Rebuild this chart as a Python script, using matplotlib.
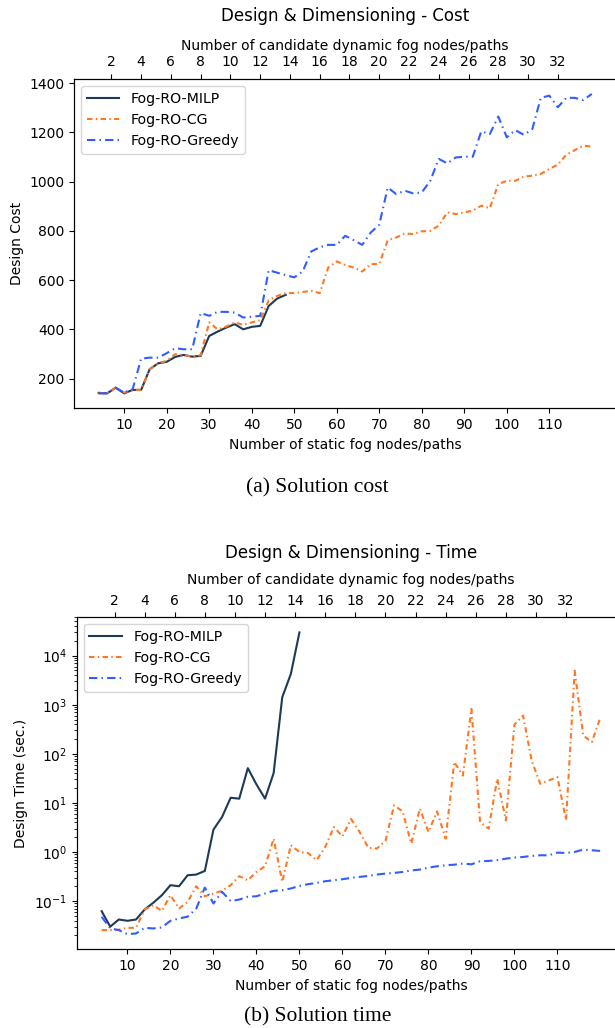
import numpy as np
import matplotlib
matplotlib.use("Agg")
import matplotlib.pyplot as plt

# static fog nodes/paths (bottom axis); dynamic = static / 3.5 (top axis)
n_static = list(range(4, 121, 2))
n_static_milp = list(range(4, 49, 2))
n_static_milp_t = list(range(4, 51, 2))
top_ticks = list(range(2, 33, 2))
bottom_ticks = list(range(10, 111, 10))

cost_milp = [142, 140, 163, 140, 154, 154, 238, 262, 268, 288, 296, 289,
             292, 373, 391, 407, 421, 400, 410, 414, 495, 525, 540]
cost_cg = [140, 140, 163, 143, 154, 154, 238, 262, 272, 299, 296, 289,
           295, 428, 400, 411, 428, 418, 428, 437, 518, 536, 547, 547,
           552, 556, 547, 651, 676, 661, 651, 635, 665, 665, 762, 773,
           789, 787, 798, 800, 821, 875, 868, 875, 882, 902, 892, 990,
           1003, 1003, 1020, 1024, 1031, 1051, 1069, 1109, 1128, 1146, 1142]
cost_greedy = [140, 140, 163, 143, 157, 281, 285, 285, 303, 323, 319, 319,
               466, 455, 471, 471, 468, 448, 451, 455, 640, 630, 620, 611,
               635, 716, 733, 743, 743, 780, 762, 743, 793, 825, 976, 949,
               963, 952, 956, 1003, 1092, 1074, 1098, 1101, 1101, 1204, 1193, 1264,
               1180, 1209, 1190, 1213, 1340, 1349, 1302, 1340, 1340, 1331, 1356]

time_milp = [0.062, 0.030, 0.042, 0.0395, 0.042, 0.067, 0.092, 0.131, 0.21, 0.20,
             0.335, 0.346, 0.41, 2.85, 5.15, 12.7, 12.2, 51, 23.8, 12.2,
             40.5, 1420, 4240, 29800]
time_cg = [0.0255, 0.0255, 0.026, 0.0284, 0.0284, 0.067, 0.082, 0.063, 0.131, 0.070,
           0.096, 0.20, 0.125, 0.142, 0.161, 0.21, 0.32, 0.265, 0.39, 0.51,
           1.87, 0.245, 1.37, 1.0, 0.95, 0.68, 1.26, 3.22, 2.08, 4.7,
           2.55, 1.22, 1.17, 1.67, 8.9, 6.7, 1.48, 7.6, 2.55, 6.7,
           1.87, 68, 36, 823, 4.07, 2.98, 31, 4.4, 395, 603,
           73, 24.5, 28.7, 33.5, 4.4, 4950, 236, 173, 557]
time_greedy = [0.0477, 0.0276, 0.0255, 0.0211, 0.0218, 0.0284, 0.0276, 0.0289, 0.0395, 0.044,
               0.048, 0.070, 0.188, 0.089, 0.154, 0.10, 0.107, 0.122, 0.125, 0.142,
               0.161, 0.166, 0.18, 0.203, 0.22, 0.234, 0.253, 0.265, 0.278, 0.296,
               0.31, 0.325, 0.346, 0.362, 0.374, 0.39, 0.42, 0.437, 0.48, 0.51,
               0.535, 0.55, 0.58, 0.56, 0.646, 0.656, 0.68, 0.73, 0.767, 0.79,
               0.83, 0.855, 0.855, 0.97, 0.95, 1.0, 1.115, 1.08, 1.05]

c_milp = "#1d3a58"
c_cg = "#ff7722"
c_greedy = "#2f5dff"
dash_cg = (0, (2.6, 1.6, 0.7, 1.6))
dash_greedy = (0, (4.0, 2.0, 0.7, 2.0))

plt.rcParams["font.family"] = "DejaVu Sans"
plt.rcParams["font.size"] = 10

fig = plt.figure(figsize=(6.15, 10.28), dpi=100)
ax1 = fig.add_axes([0.1203, 0.6028, 0.8821, 0.3204])
ax2 = fig.add_axes([0.1247, 0.0766, 0.8922, 0.3229])


def draw(ax, x_m, y_m, y_cg, y_gr, ylabel, title, log=False, tpad=15, lpad=4):
    ax.plot(x_m, y_m, color=c_milp, lw=1.5, label="Fog-RO-MILP")
    ax.plot(n_static, y_cg, color=c_cg, lw=1.5, linestyle=dash_cg, label="Fog-RO-CG")
    ax.plot(n_static, y_gr, color=c_greedy, lw=1.5, linestyle=dash_greedy, label="Fog-RO-Greedy")
    if log:
        ax.set_yscale("log")
    ax.set_xticks(bottom_ticks)
    ax.set_xlabel("Number of static fog nodes/paths")
    ax.set_ylabel(ylabel)
    ax.legend(loc="upper left", fontsize=10.2, handlelength=2.3)

    top = ax.twiny()
    lo, hi = ax.get_xlim()
    top.set_xlim(lo / 3.5, hi / 3.5)
    top.set_xticks(top_ticks)
    top.set_xlabel("Number of candidate dynamic fog nodes/paths", labelpad=lpad)
    top.set_title(title, fontsize=12, pad=tpad)


draw(ax1, n_static_milp, cost_milp, cost_cg, cost_greedy,
     "Design Cost", "Design & Dimensioning - Cost", tpad=13, lpad=4)
draw(ax2, n_static_milp_t, time_milp, time_cg, time_greedy,
     "Design Time (sec.)", "Design & Dimensioning - Time", log=True, tpad=11, lpad=7)

fig.text(0.516, 1 - 488 / 1028, "(a) Solution cost", family="Liberation Serif",
         fontsize=15.5, ha="center", va="center")
fig.text(0.516, 1 - 1017 / 1028, "(b) Solution time", family="Liberation Serif",
         fontsize=15.5, ha="center", va="center")

fig.savefig("out.png", dpi=100)
